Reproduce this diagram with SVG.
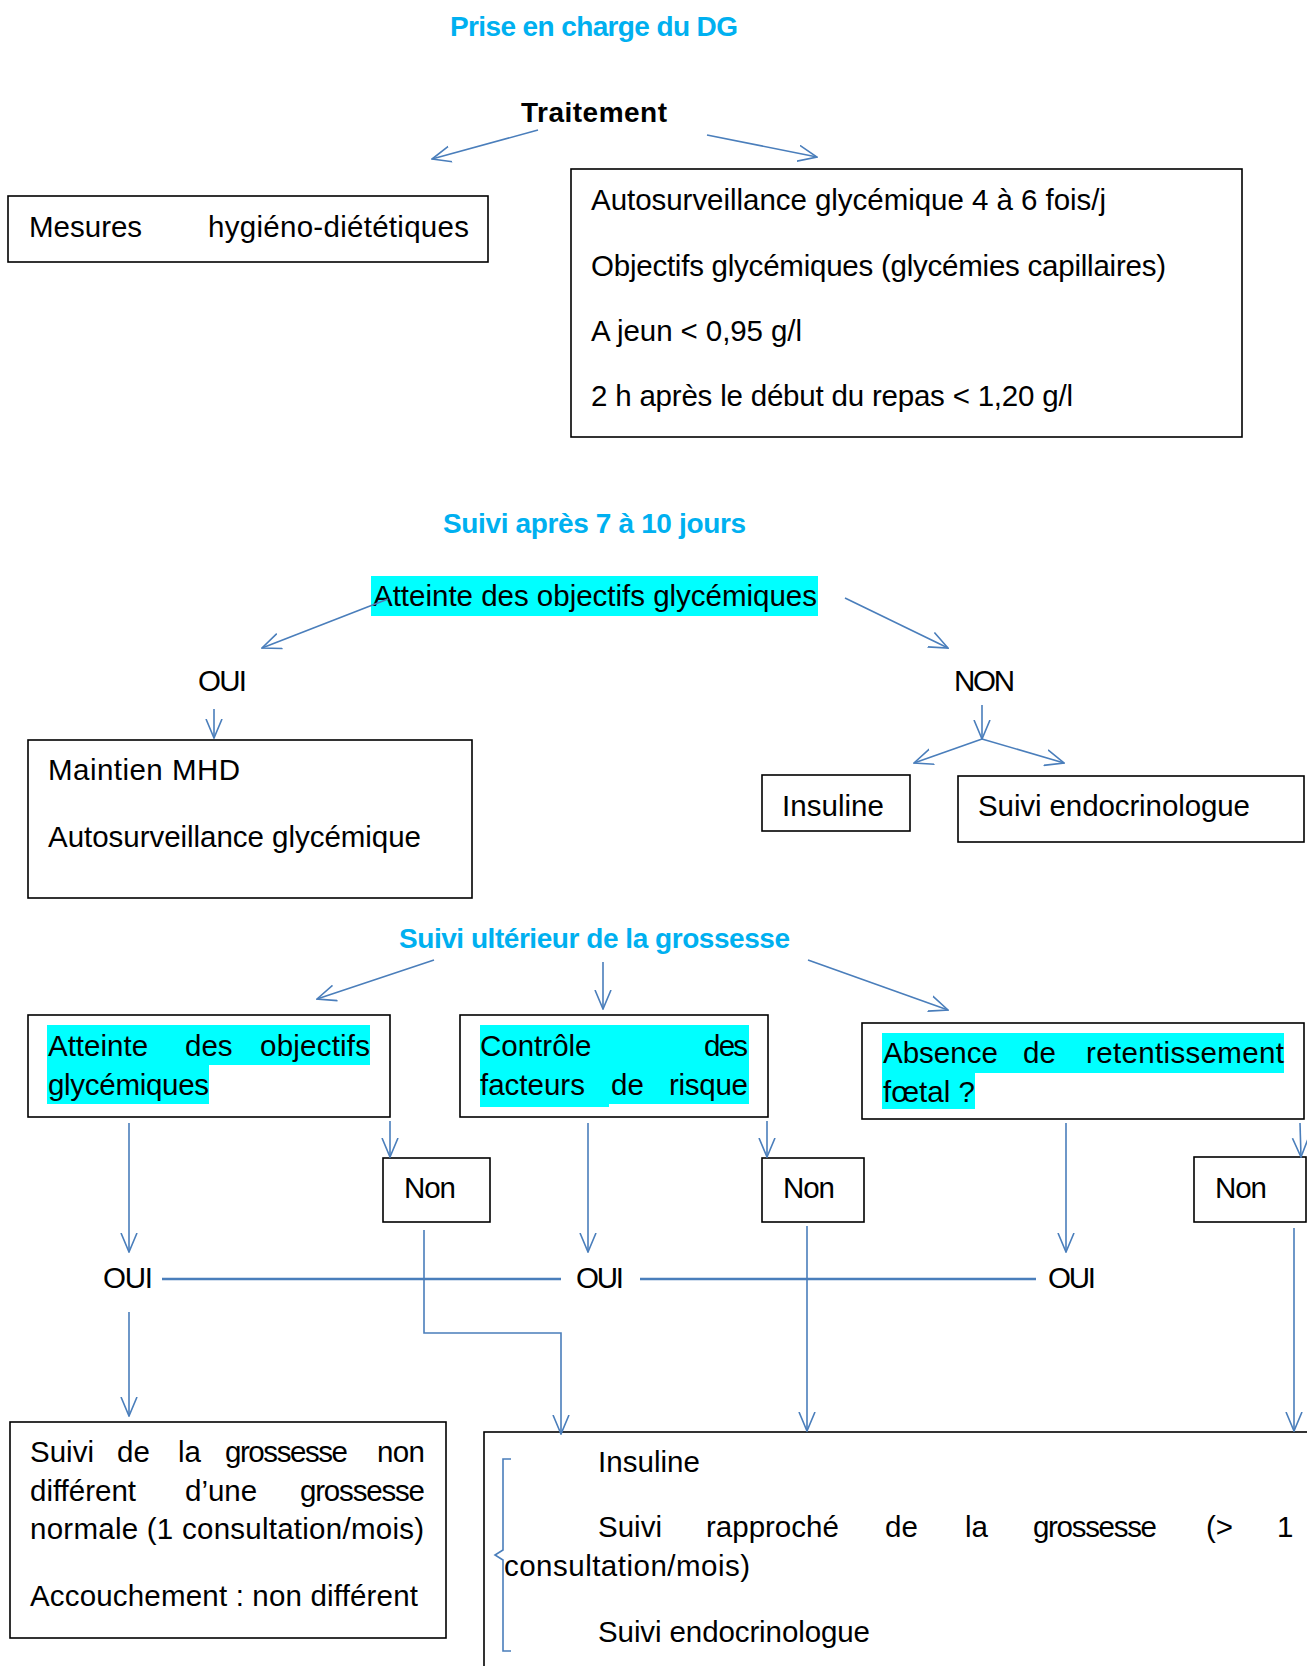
<svg xmlns="http://www.w3.org/2000/svg" width="1307" height="1666" viewBox="0 0 1307 1666">
<style>
text{font-family:"Liberation Sans",Arial,sans-serif;font-size:29.5px;fill:#000}
.t{font-weight:bold;fill:#00B0F0;font-size:28px}
.b{font-weight:bold;font-size:28px}
.box{fill:#fff;stroke:#000;stroke-width:1.6}
.hl{fill:#00FFFF}
.c{fill:none;stroke:#4A7EBB;stroke-width:1.6}
.ca{fill:none;stroke:#4A7EBB;stroke-width:1.6;marker-end:url(#ah)}
.thick{fill:none;stroke:#4A7EBB;stroke-width:2.6}
</style>
<defs>
<marker id="ah" viewBox="0 0 20 18" refX="19" refY="9" markerWidth="20" markerHeight="18" markerUnits="userSpaceOnUse" orient="auto">
<path d="M0,1 L19,9 L0,17" fill="none" stroke="#4A7EBB" stroke-width="1.6"/>
</marker>
</defs>
<rect width="1307" height="1666" fill="#fff"/>

<g id="title1"><text class="t" x="450" y="36" textLength="288">Prise en charge du DG</text></g>
<g id="traitement"><text class="b" x="521" y="122" textLength="146">Traitement</text></g>
<g id="mhd-box">
<rect class="box" x="8" y="196" width="480" height="66"/>
<text y="237"><tspan x="29">Mesures</tspan><tspan x="208" textLength="261">hygiéno-diététiques</tspan></text>
</g>
<g id="autosurv-box">
<rect class="box" x="571" y="169" width="671" height="268"/>
<text x="591" y="210" textLength="515">Autosurveillance glycémique 4 à 6 fois/j</text>
<text x="591" y="276" textLength="575">Objectifs glycémiques (glycémies capillaires)</text>
<text x="591" y="341" textLength="211">A jeun &lt; 0,95 g/l</text>
<text x="591" y="406" textLength="482">2 h après le début du repas &lt; 1,20 g/l</text>
</g>

<g id="title2"><text class="t" x="443" y="533" textLength="303">Suivi après 7 à 10 jours</text></g>
<g id="atteinte">
<rect class="hl" x="371" y="576" width="447" height="40"/>
<text x="373" y="606" textLength="444">Atteinte des objectifs glycémiques</text>
</g>
<g id="oui1"><text x="198" y="691" textLength="49">OUI</text></g>
<g id="non1"><text x="954" y="691" textLength="61">NON</text></g>
<g id="maintien-box">
<rect class="box" x="28" y="740" width="444" height="158"/>
<text x="48" y="780" textLength="192">Maintien MHD</text>
<text x="48" y="847" textLength="373">Autosurveillance glycémique</text>
</g>
<g id="insuline-box">
<rect class="box" x="762" y="775" width="148" height="56"/>
<text x="782" y="816" textLength="102">Insuline</text>
</g>
<g id="endo-box">
<rect class="box" x="958" y="776" width="346" height="66"/>
<text x="978" y="816" textLength="272">Suivi endocrinologue</text>
</g>

<g id="title3"><text class="t" x="399" y="948" textLength="391">Suivi ultérieur de la grossesse</text></g>
<g id="crit1">
<rect class="box" x="28" y="1015" width="362" height="102"/>
<rect class="hl" x="47" y="1025" width="323" height="40"/>
<rect class="hl" x="47" y="1065" width="162" height="39"/>
<text y="1056"><tspan x="48">Atteinte</tspan><tspan x="185">des</tspan><tspan x="260" textLength="110">objectifs</tspan></text>
<text x="48" y="1095" textLength="161">glycémiques</text>
</g>
<g id="crit2">
<rect class="box" x="460" y="1015" width="308" height="102"/>
<rect class="hl" x="480" y="1025" width="269" height="79"/>
<rect class="hl" x="480" y="1103" width="129" height="4"/>
<text y="1056"><tspan x="480">Contrôle</tspan><tspan x="704" textLength="44">des</tspan></text>
<text y="1095"><tspan x="480">facteurs</tspan><tspan x="611">de</tspan><tspan x="669" textLength="79">risque</tspan></text>
</g>
<g id="crit3">
<rect class="box" x="862" y="1023" width="442" height="96"/>
<rect class="hl" x="882" y="1033" width="402" height="40"/>
<rect class="hl" x="882" y="1073" width="93" height="36"/>
<text y="1063"><tspan x="883">Absence</tspan><tspan x="1023">de</tspan><tspan x="1086" textLength="198">retentissement</tspan></text>
<text x="883" y="1102" textLength="92">fœtal ?</text>
</g>
<g id="non-a"><rect class="box" x="383" y="1158" width="107" height="64"/><text x="404" y="1198" textLength="52">Non</text></g>
<g id="non-b"><rect class="box" x="762" y="1158" width="102" height="64"/><text x="783" y="1198" textLength="52">Non</text></g>
<g id="non-c"><rect class="box" x="1194" y="1157" width="112" height="65"/><text x="1215" y="1198" textLength="52">Non</text></g>
<g id="oui-a"><text x="103" y="1288" textLength="50">OUI</text></g>
<g id="oui-b"><text x="576" y="1288" textLength="48">OUI</text></g>
<g id="oui-c"><text x="1048" y="1288" textLength="48">OUI</text></g>

<g id="normal-box">
<rect class="box" x="10" y="1422" width="436" height="216"/>
<text y="1462"><tspan x="30">Suivi</tspan><tspan x="117">de</tspan><tspan x="178">la</tspan><tspan x="225" textLength="123">grossesse</tspan><tspan x="377" textLength="48">non</tspan></text>
<text y="1501"><tspan x="30">différent</tspan><tspan x="185">d’une</tspan><tspan x="300" textLength="125">grossesse</tspan></text>
<text x="30" y="1539" textLength="394">normale (1 consultation/mois)</text>
<text x="30" y="1606" textLength="388">Accouchement : non différent</text>
</g>
<g id="rapproche-box">
<rect class="box" x="484" y="1432" width="900" height="300"/>
<path d="M511,1459 H503 V1550 L495,1555 L503,1560 V1651 H511" fill="none" stroke="#4A7EBB" stroke-width="1.6"/>
<text x="598" y="1472" textLength="102">Insuline</text>
<text y="1537"><tspan x="598">Suivi</tspan><tspan x="706">rapproché</tspan><tspan x="885">de</tspan><tspan x="965">la</tspan><tspan x="1033" textLength="124">grossesse</tspan><tspan x="1206">(&gt;</tspan><tspan x="1277">1</tspan></text>
<text x="504" y="1576" textLength="246">consultation/mois)</text>
<text x="598" y="1642" textLength="272">Suivi endocrinologue</text>
</g>

<g id="connectors">
<line class="ca" x1="538" y1="130" x2="432" y2="159"/>
<line class="ca" x1="707" y1="135" x2="817" y2="157"/>
<line class="ca" x1="388" y1="599" x2="262" y2="648"/>
<line class="ca" x1="845" y1="598" x2="948" y2="648"/>
<line class="ca" x1="214" y1="709" x2="214" y2="738"/>
<line class="ca" x1="982" y1="705" x2="982" y2="739"/>
<line class="ca" x1="982" y1="739" x2="914" y2="763"/>
<line class="ca" x1="982" y1="739" x2="1064" y2="763"/>
<line class="ca" x1="434" y1="960" x2="317" y2="999"/>
<line class="ca" x1="603" y1="962" x2="603" y2="1009"/>
<line class="ca" x1="808" y1="960" x2="948" y2="1010"/>
<line class="ca" x1="390" y1="1121" x2="390" y2="1157"/>
<line class="ca" x1="767" y1="1121" x2="767" y2="1157"/>
<line class="ca" x1="1300" y1="1123" x2="1301" y2="1157"/>
<line class="ca" x1="129" y1="1123" x2="129" y2="1252"/>
<line class="ca" x1="588" y1="1123" x2="588" y2="1252"/>
<line class="ca" x1="1066" y1="1123" x2="1066" y2="1252"/>
<line class="thick" x1="162" y1="1279" x2="561" y2="1279"/>
<line class="thick" x1="640" y1="1279" x2="1036" y2="1279"/>
<path class="ca" d="M424,1230 V1333 H561 V1434"/>
<line class="ca" x1="807" y1="1226" x2="807" y2="1431"/>
<line class="ca" x1="1294" y1="1228" x2="1294" y2="1431"/>
<line class="ca" x1="129" y1="1312" x2="129" y2="1416"/>
</g>
</svg>
